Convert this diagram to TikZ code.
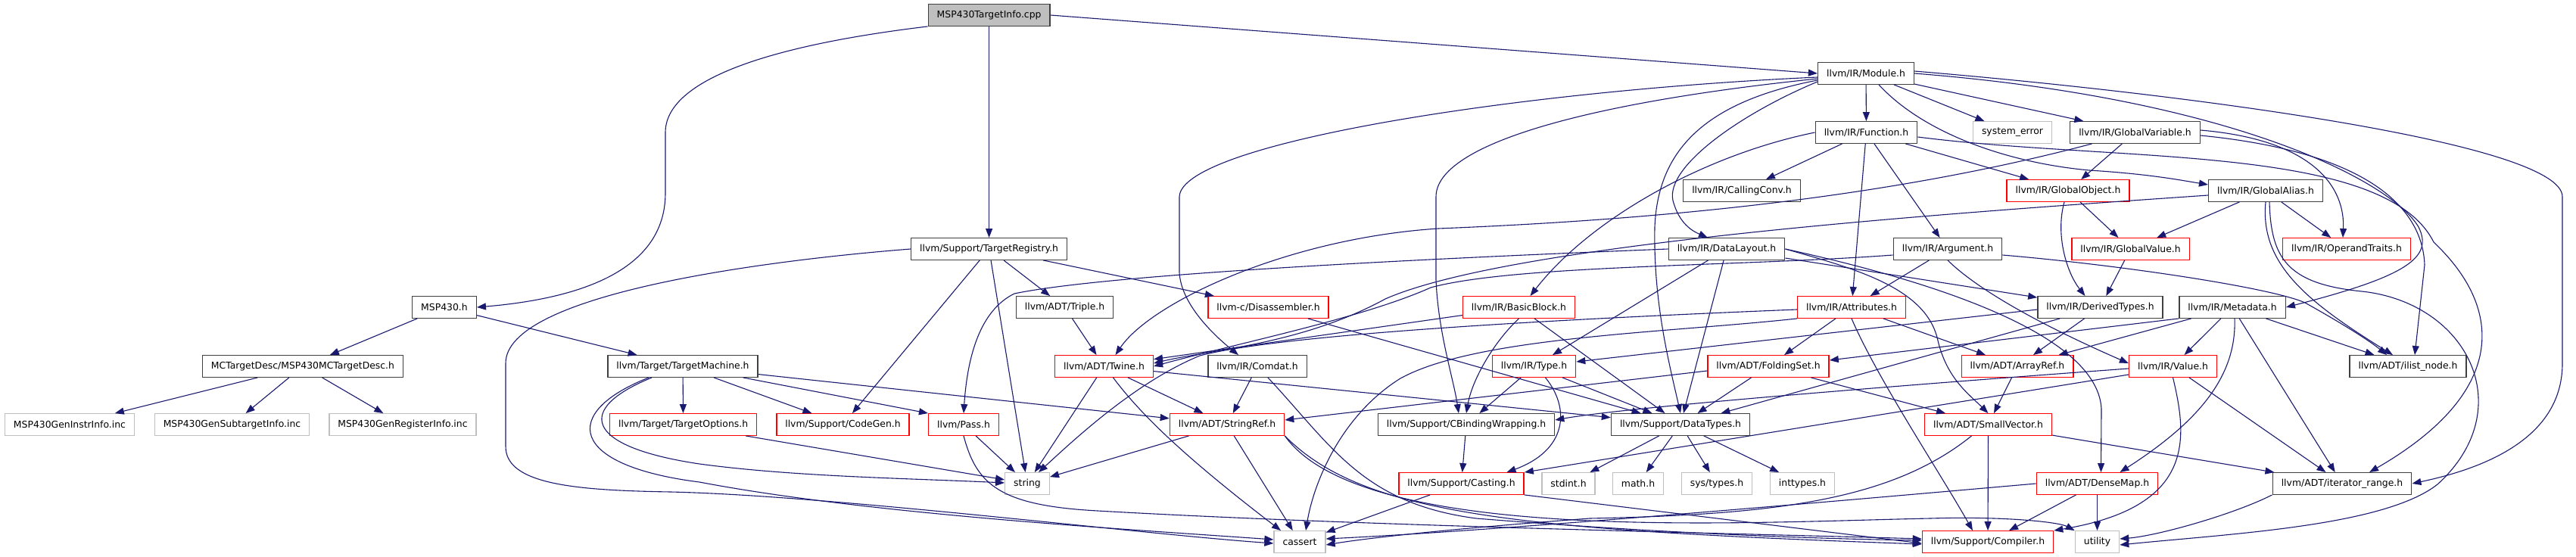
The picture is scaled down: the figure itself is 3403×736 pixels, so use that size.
\documentclass[tikz,border=0pt]{standalone}
\usepackage{fontspec}
\setmainfont{DejaVu Sans}
\usepackage{tikz}
\usetikzlibrary{arrows.meta}
\definecolor{edgecol}{HTML}{191970}
\definecolor{boxgrey}{HTML}{BFBFBF}
\definecolor{boxred}{HTML}{FF0000}
\definecolor{boxdark}{HTML}{404040}
\tikzstyle{hbase} = [rectangle, line width=1.4pt, inner xsep=11.5pt, minimum height=28.5pt, font=\fontsize{12.4pt}{14pt}\selectfont, fill=white]
\tikzstyle{hfile} = [hbase, draw=boxdark]
\tikzstyle{hred} = [hbase, draw=boxred]
\tikzstyle{hsys} = [hbase, draw=boxgrey]
\tikzstyle{hroot} = [hbase, draw=boxdark, fill=boxgrey]
\tikzstyle{incl} = [draw=edgecol, line width=1.1pt, -{Triangle[length=12pt,width=9pt]}]

\begin{document}
\begin{tikzpicture}[x=1pt, y=-1pt]
  \useasboundingbox (0,0) rectangle (3403,736);
  \fill [white] (0,0) rectangle (3403,736);

  % files
  \node [hroot] (root) at (1306.6,20) {MSP430TargetInfo.cpp};
  \node [hfile] (module) at (2465,97) {llvm/IR/Module.h};
  \node [hfile] (function) at (2465.5,175) {llvm/IR/Function.h};
  \node [hsys] (syserr) at (2658.5,175) {system\_error};
  \node [hfile] (gvar) at (2820.5,175) {llvm/IR/GlobalVariable.h};
  \node [hfile] (callconv) at (2301,252) {llvm/IR/CallingConv.h};
  \node [hred] (gobj) at (2732,252) {llvm/IR/GlobalObject.h};
  \node [hfile] (galias) at (2993,252) {llvm/IR/GlobalAlias.h};
  \node [hfile] (treg) at (1306.6,329) {llvm/Support/TargetRegistry.h};
  \node [hfile] (dlayout) at (2281,329) {llvm/IR/DataLayout.h};
  \node [hfile] (arg) at (2573,329) {llvm/IR/Argument.h};
  \node [hred] (gval) at (2814.5,329) {llvm/IR/GlobalValue.h};
  \node [hred] (optraits) at (3100,329) {llvm/IR/OperandTraits.h};
  \node [hfile] (msp) at (587,406) {MSP430.h};
  \node [hfile] (triple) at (1406.5,406) {llvm/ADT/Triple.h};
  \node [hred] (disasm) at (1675.5,406) {llvm-c/Disassembler.h};
  \node [hred] (bblock) at (2006.5,406) {llvm/IR/BasicBlock.h};
  \node [hred] (attr) at (2446,406) {llvm/IR/Attributes.h};
  \node [hfile] (dtypes) at (2774.5,406) {llvm/IR/DerivedTypes.h};
  \node [hfile] (metadata) at (2949,406) {llvm/IR/Metadata.h};
  \node [hfile] (mcdesc) at (400,484) {MCTargetDesc/MSP430MCTargetDesc.h};
  \node [hfile] (tmach) at (902,484) {llvm/Target/TargetMachine.h};
  \node [hred] (twine) at (1458.5,484) {llvm/ADT/Twine.h};
  \node [hfile] (comdat) at (1661,484) {llvm/IR/Comdat.h};
  \node [hred] (type) at (2026.5,484) {llvm/IR/Type.h};
  \node [hred] (fset) at (2336,484) {llvm/ADT/FoldingSet.h};
  \node [hred] (aref) at (2665,484) {llvm/ADT/ArrayRef.h};
  \node [hred] (value) at (2870.5,484) {llvm/IR/Value.h};
  \node [hfile] (ilist) at (3181,484) {llvm/ADT/ilist\_node.h};
  \node [hsys] (geninstr) at (92,561) {MSP430GenInstrInfo.inc};
  \node [hsys] (gensub) at (306.5,561) {MSP430GenSubtargetInfo.inc};
  \node [hsys] (genreg) at (532,561) {MSP430GenRegisterInfo.inc};
  \node [hred] (topts) at (902.6,561) {llvm/Target/TargetOptions.h};
  \node [hred] (codegen) at (1113.5,561) {llvm/Support/CodeGen.h};
  \node [hred] (pass) at (1273,561) {llvm/Pass.h};
  \node [hred] (sref) at (1621,561) {llvm/ADT/StringRef.h};
  \node [hfile] (cbw) at (1937,561) {llvm/Support/CBindingWrapping.h};
  \node [hfile] (datatypes) at (2220,561) {llvm/Support/DataTypes.h};
  \node [hred] (svec) at (2626.5,561) {llvm/ADT/SmallVector.h};
  \node [hsys] (string) at (1357,639) {string};
  \node [hred] (casting) at (1930.5,639) {llvm/Support/Casting.h};
  \node [hsys] (stdint) at (2072,639) {stdint.h};
  \node [hsys] (mathh) at (2164,639) {math.h};
  \node [hsys] (systypes) at (2268,639) {sys/types.h};
  \node [hsys] (inttypes) at (2381,639) {inttypes.h};
  \node [hred] (dmap) at (2770.5,639) {llvm/ADT/DenseMap.h};
  \node [hfile] (itrange) at (3094,639) {llvm/ADT/iterator\_range.h};
  \node [hsys] (cassert) at (1717,716) {cassert};
  \node [hred] (compiler) at (2626,716) {llvm/Support/Compiler.h};
  \node [hsys] (utility) at (2770.5,716) {utility};

  % includes of the source file
  \path [incl] (root.south west) .. controls (1000,62) and (879,110) .. (879,175) -- (879,255) .. controls (879,360) and (760,395) .. (msp.east);
  \path [incl] (root) -- (treg);
  \path [incl] (root.east) -- (module.west);

  % MSP430.h
  \path [incl] (msp) -- (mcdesc);
  \path [incl] (msp) -- (tmach);
  \path [incl] (mcdesc) -- (geninstr);
  \path [incl] (mcdesc) -- (gensub);
  \path [incl] (mcdesc) -- (genreg);

  % TargetMachine.h
  \path [incl] (tmach) -- (topts);
  \path [incl] (tmach) -- (codegen);
  \path [incl] ([xshift=-20pt]tmach.south east) -- (pass.north west);
  \path [incl] (tmach) -- (sref);
  \path [incl] ([xshift=-41pt]tmach.south) .. controls (760,540) and (770,590) .. (924,613) .. controls (1050,630) and (1200,632) .. ([yshift=1pt]string.west);
  \path [incl] ([xshift=-45pt]tmach.south) .. controls (740,545) and (750,615) .. (924,637) .. controls (1150,680) and (1500,700) .. ([yshift=3pt]cassert.west);
  \path [incl] ([xshift=-15pt]topts.south east) -- (string);

  % TargetRegistry.h
  \path [incl] (treg) -- (codegen);
  \path [incl] (treg) -- (string);
  \path [incl] (treg) -- (triple);
  \path [incl] (treg) -- (disasm);
  \path [incl] (treg.west) .. controls (1000,345) and (668,390) .. (668,480) -- (668,590) .. controls (668,640) and (760,648) .. (886,650) .. controls (1100,655) and (1500,705) .. ([yshift=-2pt]cassert.west);
  \path [incl] (triple) -- (twine);
  \path [incl] (disasm) -- (datatypes);

  % Twine.h, Comdat.h, StringRef.h, Pass.h
  \path [incl] (twine) -- (string);
  \path [incl] ([xshift=12pt]twine.south) .. controls (1505,545) and (1560,600) .. ([xshift=-25pt]cassert.north);
  \path [incl] (twine) -- (sref);
  \path [incl] (twine) -- (datatypes);
  \path [incl] (comdat) -- (sref);
  \path [incl] (comdat) .. controls (1760,590) and (1800,665) .. (1950,685) .. controls (2200,705) and (2400,712) .. ([yshift=2pt]compiler.west);
  \path [incl] (sref) -- (string);
  \path [incl] (sref) -- (cassert);
  \path [incl] (sref.south east) .. controls (1800,680) and (2000,700) .. ([yshift=-3pt]compiler.west);
  \path [incl] (sref.south east) .. controls (1800,720) and (2300,690) .. (2550,685) .. controls (2650,682) and (2720,690) .. (utility.north west);
  \path [incl] (pass) -- (string);
  \path [incl] (pass.south) .. controls (1290,640) and (1320,668) .. (1450,675) .. controls (1800,695) and (2300,705) .. ([yshift=4pt]compiler.west);

  % Casting.h, CBindingWrapping.h, DataTypes.h, Type.h
  \path [incl] (casting) -- (cassert);
  \path [incl] (casting.south east) -- ([yshift=-2pt]compiler.west);
  \path [incl] (cbw) -- (casting);
  \path [incl] (datatypes) -- (stdint);
  \path [incl] (datatypes) -- (mathh);
  \path [incl] (datatypes) -- (systypes);
  \path [incl] (datatypes) -- (inttypes);
  \path [incl] (type) -- (cbw);
  \path [incl] (type) -- (datatypes);
  \path [incl] ([xshift=15pt]type.south) .. controls (2075,540) and (2070,595) .. ([xshift=60pt]casting.north);

  % BasicBlock.h, DataLayout.h
  \path [incl] (bblock) -- (twine);
  \path [incl] (bblock.south) .. controls (1975,450) and (1945,500) .. (cbw.north);
  \path [incl] (bblock) -- (datatypes);
  \path [incl] (dlayout.west) .. controls (1800,345) and (1450,365) .. (1340,388) .. controls (1295,410) and (1278,470) .. (pass.north);
  \path [incl] (dlayout) -- (type);
  \path [incl] (dlayout) -- (datatypes);
  \path [incl] (dlayout) -- (dtypes);
  \path [incl] (dlayout.east) .. controls (2450,355) and (2545,380) .. (2560,450) .. controls (2572,500) and (2600,520) .. (svec.north);
  \path [incl] (dlayout.east) .. controls (2500,360) and (2770,430) .. (2776,540) -- ([xshift=5pt]dmap.north);

  % Module.h
  \path [incl] (module) -- (function);
  \path [incl] (module) -- (syserr);
  \path [incl] (module) -- (gvar);
  \path [incl] ([yshift=-5pt]module.west) .. controls (2000,120) and (1560,190) .. (1558,260) -- (1558,360) .. controls (1560,400) and (1600,440) .. ([xshift=-25pt]comdat.north);
  \path [incl] ([yshift=-7pt]module.west) .. controls (2100,135) and (1897,190) .. (1897,260) -- (1897,370) .. controls (1900,440) and (1920,500) .. ([xshift=-10pt]cbw.north);
  \path [incl] ([yshift=-9pt]module.west) .. controls (2250,135) and (2190,200) .. (2186,300) .. controls (2184,400) and (2205,480) .. (datatypes.north);
  \path [incl] ([yshift=-11pt]module.west) .. controls (2300,150) and (2200,220) .. (2210,265) .. controls (2218,295) and (2235,305) .. ([xshift=-25pt]dlayout.north);
  \path [incl] ([yshift=3pt]module.east) .. controls (2900,125) and (3385,190) .. (3385,260) -- (3385,480) .. controls (3385,570) and (3300,615) .. (itrange.east);
  \path [incl] (module.east) .. controls (2950,130) and (3160,240) .. (3195,300) .. controls (3215,340) and (3180,365) .. (metadata.east);
  \path [incl] ([xshift=17pt]module.south) .. controls (2540,175) and (2650,215) .. (2760,225) .. controls (2840,230) and (2880,238) .. ([yshift=8pt]galias.west);

  % Function.h
  \path [incl] (function) -- (callconv);
  \path [incl] (function) -- (arg);
  \path [incl] (function) -- (attr);
  \path [incl] (function) -- (gobj);
  \path [incl] (function.west) .. controls (2250,205) and (2100,290) .. ([xshift=15pt]bblock.north);
  \path [incl] ([yshift=-6pt]function.east) .. controls (2800,215) and (3150,190) .. (3215,320) .. controls (3310,410) and (3310,520) .. ([xshift=36pt]itrange.north);

  % GlobalVariable.h, GlobalObject.h, GlobalValue.h
  \path [incl] (gvar) -- (gobj);
  \path [incl] ([xshift=-57pt]gvar.south) .. controls (2500,260) and (2200,290) .. (1900,302) .. controls (1700,315) and (1520,400) .. ([xshift=15pt]twine.north);
  \path [incl] ([yshift=3pt]gvar.east) .. controls (3060,185) and (3098,250) .. ([xshift=-5pt]optraits.north);
  \path [incl] ([yshift=-4pt]gvar.east) .. controls (3120,200) and (3200,270) .. (3203,350) -- ([xshift=9pt]ilist.north);
  \path [incl] (gobj) -- (gval);
  \path [incl] ([xshift=-5pt]gobj.south) .. controls (2715,310) and (2730,360) .. ([xshift=-20pt]dtypes.north);
  \path [incl] (gval) -- (dtypes);

  % GlobalAlias.h
  \path [incl] (galias) -- (gval);
  \path [incl] (galias) -- (optraits);
  \path [incl] (galias.south) .. controls (2985,350) and (3050,400) .. ([xshift=-20pt]ilist.north);
  \path [incl] ([yshift=-6pt]galias.west) .. controls (2600,280) and (2000,320) .. (1830,395) .. controls (1720,455) and (1600,462) .. ([yshift=4pt]twine.east);
  \path [incl] ([xshift=5pt]galias.south) .. controls (3000,340) and (3020,375) .. (3120,385) .. controls (3260,400) and (3330,540) .. (3220,640) .. controls (3150,695) and (2950,705) .. ([yshift=-4pt]utility.east);

  % Argument.h, Attributes.h
  \path [incl] (arg) -- (attr);
  \path [incl] (arg.south) .. controls (2620,390) and (2720,440) .. ([yshift=4pt]value.west);
  \path [incl] ([yshift=-8pt]arg.west) .. controls (2300,352) and (2000,350) .. (1890,380) .. controls (1800,420) and (1650,450) .. (twine.east);
  \path [incl] ([yshift=-8pt]arg.east) .. controls (2800,350) and (3000,380) .. (3045,400) .. controls (3090,425) and (3130,450) .. ([xshift=-28pt]ilist.north);
  \path [incl] (attr) -- (fset);
  \path [incl] (attr) -- (aref);
  \path [incl] (attr.south) .. controls (2480,500) and (2560,620) .. ([xshift=-20pt]compiler.north);
  \path [incl] ([yshift=-3pt]attr.west) .. controls (2100,420) and (1700,440) .. (1585,470) .. controls (1500,505) and (1420,580) .. ([xshift=15pt]string.north);
  \path [incl] (attr.south west) .. controls (2200,440) and (1950,445) .. (1850,500) .. controls (1770,550) and (1735,640) .. ([xshift=8pt]cassert.north);

  % DerivedTypes.h, FoldingSet.h, ArrayRef.h
  \path [incl] ([yshift=-3pt]dtypes.west) -- ([yshift=6pt]type.east);
  \path [incl] (dtypes) -- (aref);
  \path [incl] (dtypes) -- (datatypes);
  \path [incl] ([yshift=-6pt]fset.west) -- ([yshift=6pt]sref.east);
  \path [incl] (fset) -- (datatypes);
  \path [incl] (fset) -- (svec);
  \path [incl] (aref) -- (svec);

  % Metadata.h, Value.h
  \path [incl] (metadata) -- (value);
  \path [incl] (metadata) -- (ilist);
  \path [incl] (metadata) -- (itrange);
  \path [incl] (metadata.south west) -- ([yshift=8pt]fset.east);
  \path [incl] (metadata) -- (aref);
  \path [incl] ([xshift=3pt]metadata.south) .. controls (2955,500) and (2900,560) .. ([xshift=30pt]dmap.north);
  \path [incl] ([yshift=-11pt]value.west) -- (casting.north east);
  \path [incl] ([yshift=-3pt]value.west) .. controls (2500,510) and (2150,538) .. ([yshift=6pt]cbw.east);
  \path [incl] (value) -- (itrange);
  \path [incl] (value.south) .. controls (2890,580) and (2900,670) .. (compiler.north east);

  % SmallVector.h, DenseMap.h, iterator_range.h
  \path [incl] (svec) -- (compiler);
  \path [incl] ([xshift=-22pt]svec.south) .. controls (2500,660) and (2350,680) .. (2100,685) .. controls (1900,700) and (1800,712) .. ([yshift=-4pt]cassert.east);
  \path [incl] (svec) -- (itrange);
  \path [incl] (dmap) -- (compiler);
  \path [incl] (dmap) -- (utility);
  \path [incl] (dmap.west) .. controls (2450,660) and (2000,700) .. ([yshift=4pt]cassert.east);
  \path [incl] (itrange.south west) .. controls (2950,680) and (2850,708) .. ([yshift=4pt]utility.east);
\end{tikzpicture}
\end{document}
